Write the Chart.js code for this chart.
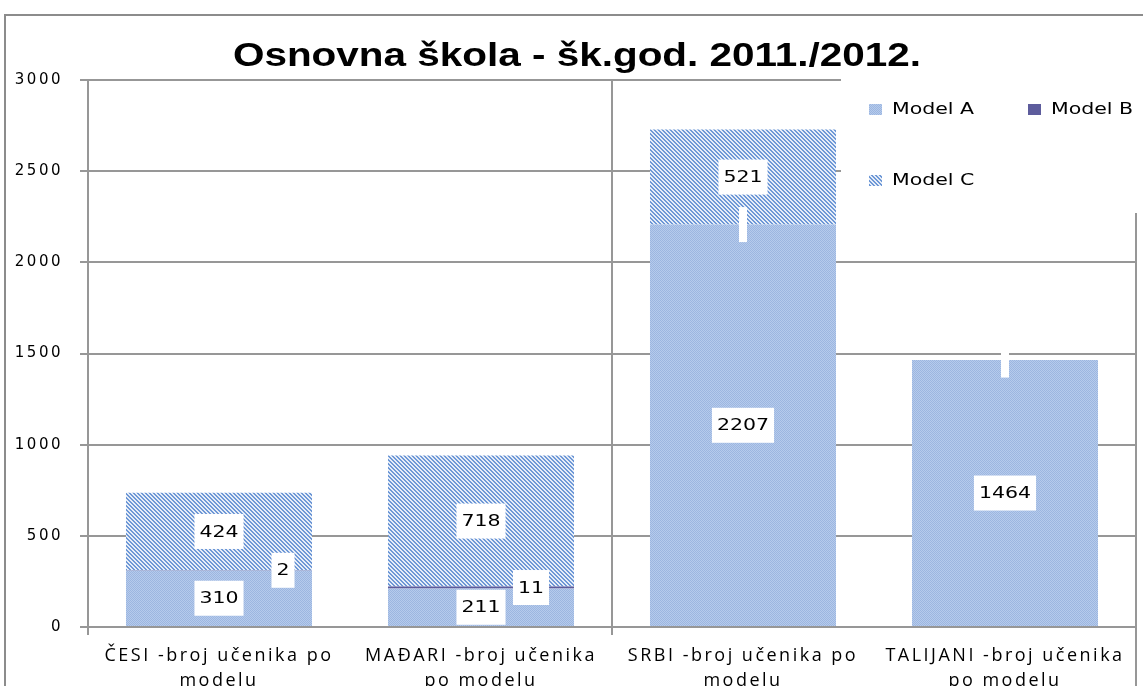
<!DOCTYPE html>
<html>
<head>
<meta charset="utf-8">
<script src="https://cdn.jsdelivr.net/npm/chart.js@4"></script>
<style>
  body { margin: 0; background: #fff; }
  canvas { display: block; }
</style>
</head>
<body>
<canvas id="grafikon" width="1143" height="686"></canvas>
<script>
// ============================
// Podaci
// ============================
const kategorije = [
    ['ČESI -broj učenika po', 'modelu'],
    ['MAĐARI -broj učenika', 'po modelu'],
    ['SRBI -broj učenika po', 'modelu'],
    ['TALIJANI -broj učenika', 'po modelu']
];
const modelA = [310, 211, 2207, 1464];
const modelB = [2, 11, 0, 0];
const modelC = [424, 718, 521, null];
const yOznake = [0, 500, 1000, 1500, 2000, 2500, 3000];
const naslov = 'Osnovna škola - šk.god. 2011./2012.';

const siva = '#979797';
const rastezanje = 1.28;   // tekst u originalu je razvučen vodoravno

const ctx = document.getElementById('grafikon').getContext('2d');

// uzorci ispune (Excel "pattern fill")
function napraviUzorak(vel, boja) {
    const c = document.createElement('canvas');
    c.width = vel;
    c.height = vel;
    const g = c.getContext('2d');
    for (let y = 0; y < vel; y++) {
        for (let x = 0; x < vel; x++) {
            g.fillStyle = boja(x, y);
            g.fillRect(x, y, 1, 1);
        }
    }
    return ctx.createPattern(c, 'repeat');
}
const uzorakA = napraviUzorak(4, (x, y) => ((x + y) % 2 === 0 ? '#9cb6e0' : '#b6cbec'));
const uzorakC = napraviUzorak(4, (x, y) => (((x - y + 8) % 4) < 2 ? '#6e98d6' : '#e6edf8'));

// razvučeni tekst
function tekstRazvucen(g, tekst, x, y, font, faktor) {
    g.save();
    g.letterSpacing = '0px';
    g.font = font;
    g.translate(x, y);
    g.scale(faktor || rastezanje, 1);
    g.fillText(tekst, 0, 0);
    g.restore();
}

// ============================
// Oznake podataka (bijeli okviri)
// ============================
const oznakePodataka = {
    id: 'oznakePodataka',
    afterDatasetsDraw(chart) {
        const g = chart.ctx;
        chart.data.datasets.forEach((ds, di) => {
            const meta = chart.getDatasetMeta(di);
            meta.data.forEach((bar, i) => {
                const v = ds.data[i];
                if (v === null || v === undefined) return;
                const pomak = ds.pomakOznake ? ds.pomakOznake[i] : 0;
                const x = bar.x + pomak;
                const y = (bar.y + bar.base) / 2;
                const tekst = v === 0 ? '' : String(v);
                const font = '16px "DejaVu Sans"';
                g.save();
                g.letterSpacing = '0px';
                g.font = font;
                const w = tekst ? g.measureText(tekst).width * rastezanje + 10 : 8;
                const h = 35;
                g.fillStyle = '#fff';
                g.fillRect(x - w / 2, y - h / 2, w, h);
                g.fillStyle = '#000';
                g.textAlign = 'center';
                g.textBaseline = 'middle';
                tekstRazvucen(g, tekst, x, y + 1, font);
                g.restore();
            });
        });
    }
};

// ============================
// Naslov, legenda i okvir
// ============================
const ukrasi = {
    id: 'ukrasi',
    beforeDraw(chart) {
        chart.ctx.letterSpacing = '2.5px';
    },
    afterDraw(chart) {
        const g = chart.ctx;
        const ca = chart.chartArea;
        g.save();
        g.letterSpacing = '0px';

        // okvir grafikona
        g.strokeStyle = '#8c8c8c';
        g.lineWidth = 2;
        g.beginPath();
        g.moveTo(5, 686);
        g.lineTo(5, 15);
        g.lineTo(1143, 15);
        g.stroke();

        // legenda prekriva mrežu
        g.fillStyle = '#fff';
        g.fillRect(841, 73, 302, 140);
        g.strokeStyle = siva;
        g.beginPath();
        g.moveTo(ca.right, 213);
        g.lineTo(ca.right, 686);
        g.stroke();

        const mjesta = [[869, 109], [1028, 109], [869, 180]];
        chart.data.datasets.forEach((ds, di) => {
            const [lx, ly] = mjesta[di];
            g.fillStyle = ds.backgroundColor;
            g.fillRect(lx, ly - 5, 13, 11);
            g.fillStyle = '#000';
            g.textAlign = 'left';
            g.textBaseline = 'middle';
            tekstRazvucen(g, ds.label, lx + 23, ly + 1, '16px "DejaVu Sans"');
        });

        // naslov
        g.fillStyle = '#000';
        g.textAlign = 'center';
        g.textBaseline = 'alphabetic';
        tekstRazvucen(g, naslov, 577, 66, 'bold 34px "Liberation Sans"', 1.19);
        g.restore();
    }
};

// ============================
// Grafikon
// ============================
new Chart(ctx, {
    type: 'bar',
    data: {
        labels: kategorije,
        datasets: [
            { label: 'Model A', data: modelA, backgroundColor: uzorakA },
            { label: 'Model B', data: modelB, backgroundColor: '#5d5c9c', pomakOznake: [64, 50, 0, 0] },
            { label: 'Model C', data: modelC, backgroundColor: uzorakC }
        ]
    },
    options: {
        responsive: false,
        animation: false,
        layout: { padding: { top: 80, right: 7, left: 0, bottom: 0 } },
        datasets: { bar: { barPercentage: 0.71, categoryPercentage: 1 } },
        plugins: {
            legend: { display: false },
            title: { display: false },
            tooltip: { enabled: false }
        },
        scales: {
            x: {
                stacked: true,
                offset: true,
                grid: {
                    offset: true,
                    color: (c) => (c.index === 0 || c.index === 2 ? siva : 'rgba(0,0,0,0)'),
                    lineWidth: 2,
                    tickLength: 8
                },
                border: { color: siva, width: 2 },
                ticks: {
                    color: '#000',
                    font: { family: 'Open Sans', size: 18, lineHeight: 1.35 },
                    padding: 9,
                    maxRotation: 0,
                    autoSkip: false
                },
                afterFit: (s) => { s.height = 59; }
            },
            y: {
                stacked: true,
                min: 0,
                max: 3000,
                afterBuildTicks: (s) => { s.ticks = yOznake.map(v => ({ value: v })); },
                grid: { color: siva, lineWidth: 2, tickLength: 8 },
                border: { color: siva, width: 2 },
                ticks: {
                    color: '#000',
                    font: { family: 'DejaVu Sans', size: 15 },
                    padding: 17,
                    callback: (v) => String(v)
                },
                afterFit: (s) => { s.width = 88; }
            }
        }
    },
    plugins: [oznakePodataka, ukrasi]
});
</script>
</body>
</html>
